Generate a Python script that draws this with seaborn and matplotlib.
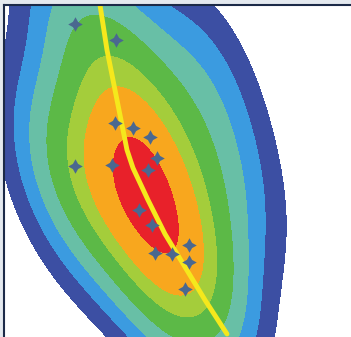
import numpy as np
import pandas as pd
import matplotlib
matplotlib.use("Agg")
import matplotlib.pyplot as plt
from matplotlib.colors import ListedColormap, BoundaryNorm
from matplotlib.contour import ContourSet
import seaborn as sns

# ============================================================
# DATA (x, y; y grows downward)
# ============================================================

# samples drawn with a cross
point_x = [75, 116, 115, 133, 150, 157, 112, 75, 148, 139, 152, 155, 172, 189, 189, 185]
point_y = [24, 40, 123, 128, 137, 158, 165, 166, 170, 210, 225, 253, 254, 245, 262, 289]

# samples without a cross (estimated from the spread of the density)
unmarked_x = [68, 225, 200, 105]
unmarked_y = [175, 180, 80, 205]

# fitted curve
line_x = [100, 107, 117, 127, 133, 148, 165, 185, 205, 227]
line_y = [5, 50, 100, 150, 168, 200, 234, 267, 300, 334]

band_colors = ["#3c4fa3", "#3b9be0", "#68bfa6", "#5cb947", "#a4cd3b", "#f8a71e", "#e8212a"]
levels = [0.035, 0.085, 0.16, 0.28, 0.45, 0.6, 0.86, 1.0]

# ============================================================
# PLOT
# ============================================================

sns.set_theme(style="white")

fig = plt.figure(figsize=(3.51, 3.37), dpi=100)
fig.patch.set_facecolor("#e4e9ef")
ax = fig.add_axes([4 / 351, 0, 347 / 351, 332 / 337])
ax.set_facecolor("white")

df = pd.DataFrame({"x": point_x + unmarked_x, "y": point_y + unmarked_y})
sns.kdeplot(data=df, x="x", y="y", fill=True, levels=levels,
            cmap=ListedColormap(band_colors), bw_adjust=1.5,
            gridsize=200, cut=6, ax=ax)

# one colour per band, whatever the density values are
cs = [c for c in ax.collections if isinstance(c, ContourSet)][0]
cs.set_cmap(ListedColormap(band_colors))
cs.set_norm(BoundaryNorm(cs.levels, len(band_colors)))

sns.lineplot(x=line_x, y=line_y, sort=False, color="#f5e81c",
             linewidth=3.5, ax=ax)

ax.scatter(point_x, point_y, marker=(4, 1, 0), s=110,
           color="#4a6890", linewidths=0, zorder=5)

ax.set_xlim(4, 351)
ax.set_ylim(337, 5)
ax.set_xticks([])
ax.set_yticks([])
ax.set_xlabel("")
ax.set_ylabel("")
for side in ["right", "bottom"]:
    ax.spines[side].set_visible(False)
for side in ["top", "left"]:
    ax.spines[side].set_color("#1c2a48")
    ax.spines[side].set_linewidth(1.5)

plt.savefig("out.png", dpi=100)
plt.close()
